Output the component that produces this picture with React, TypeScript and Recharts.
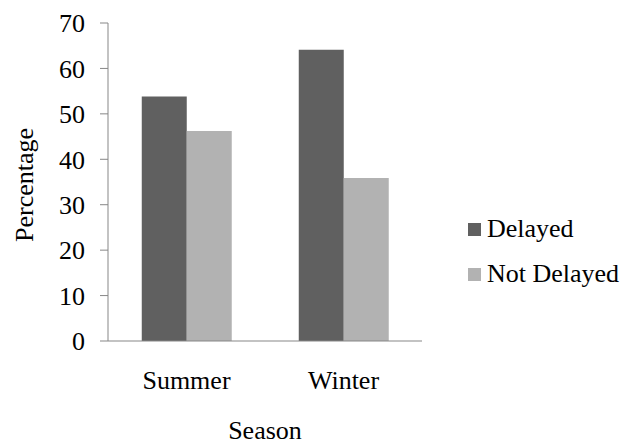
import React from 'react';
import { BarChart, Bar, XAxis, YAxis, Legend } from 'recharts';

// Share of flights by season, in percent
const seasons = ['Summer', 'Winter'];
const delayed = [53.8, 64.1];
const notDelayed = [46.2, 35.9];
const yTicks = [0, 10, 20, 30, 40, 50, 60, 70];

const seriesNames = ['Delayed', 'Not Delayed'];
const seriesColors = ['#606060', '#b2b2b2'];

const data = seasons.map((s, i) => ({ season: s, delayed: delayed[i], notDelayed: notDelayed[i] }));

const FONT = '"Liberation Serif", "Times New Roman", serif';
const AXIS = '#878787';

const LegendBox = () => (
  <svg width={172} height={100} style={{ display: 'block' }}>
    {seriesNames.map((name, i) => (
      <g key={name}>
        <rect x={8} y={23 + i * 45} width={13} height={13} fill={seriesColors[i]} />
        <text x={27} y={37 + i * 45} fontFamily={FONT} fontSize={26} fill="#000">
          {name}
        </text>
      </g>
    ))}
  </svg>
);

export default function App() {
  return (
    <div style={{ position: 'absolute', left: 0, top: 0, background: '#fff' }}>
      <BarChart
        width={632}
        height={442}
        data={data}
        margin={{ top: 23, right: 210, bottom: 0, left: 0 }}
        barCategoryGap="21.5%"
        barGap={0}
      >
        <XAxis
          dataKey="season"
          height={101}
          stroke={AXIS}
          tickLine={false}
          tickSize={8}
          tickMargin={22}
          tick={{ fill: '#000', fontFamily: FONT, fontSize: 26 }}
          label={{ value: 'Season', position: 'insideBottom', offset: 3, fill: '#000', fontFamily: FONT, fontSize: 26 }}
        />
        <YAxis
          width={108}
          domain={[0, 70]}
          ticks={yTicks}
          interval={0}
          stroke={AXIS}
          tickSize={8}
          tickMargin={15}
          tick={{ fill: '#000', fontFamily: FONT, fontSize: 26 }}
          label={{
            content: (props: any) => {
              const vb = props.viewBox;
              const cy = vb.y + vb.height / 2 + 3;
              return (
                <text
                  x={33}
                  y={cy}
                  transform={`rotate(-90, 33, ${cy})`}
                  textAnchor="middle"
                  fontFamily={FONT}
                  fontSize={26}
                  fill="#000"
                >
                  Percentage
                </text>
              );
            },
          }}
        />
        <Legend
          layout="horizontal"
          verticalAlign="middle"
          align="center"
          width={172}
          height={100}
          wrapperStyle={{ left: 460, top: 200, width: 172, height: 100 }}
          content={() => <LegendBox />}
        />
        <Bar dataKey="delayed" name={seriesNames[0]} fill={seriesColors[0]} isAnimationActive={false} />
        <Bar dataKey="notDelayed" name={seriesNames[1]} fill={seriesColors[1]} isAnimationActive={false} />
      </BarChart>
    </div>
  );
}
